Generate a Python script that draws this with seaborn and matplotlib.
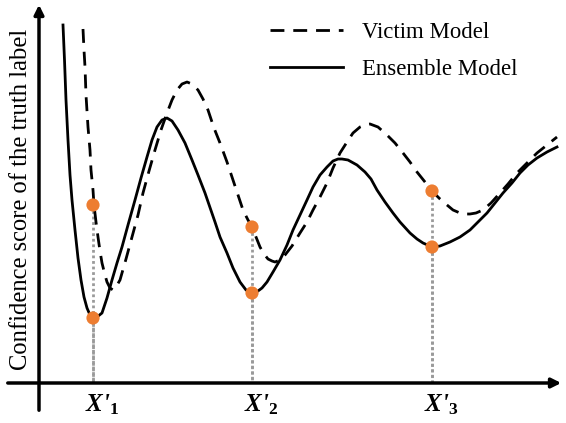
import matplotlib
matplotlib.use("Agg")
import matplotlib.pyplot as plt
import seaborn as sns

# curve shapes (x to the right, y downward as in the image)
ensemble_x = [63, 64.5, 66, 68, 70, 72, 75, 78, 81, 84, 87, 90, 93, 97, 102, 107, 112, 117,
              122, 128, 135, 141, 147, 152, 157, 162, 167, 172, 178, 185, 192, 198, 205,
              215, 220, 227, 233, 240, 246, 252, 258, 262, 267, 273, 280, 287, 293, 300,
              307, 313, 320, 327, 333, 338, 342, 348, 357, 365, 371, 377, 385, 393, 400,
              410, 417, 423, 432, 440, 450, 460, 470, 478, 487, 495, 503, 512, 520, 528,
              537, 547, 557]
ensemble_y = [25, 60, 100, 140, 175, 200, 230, 258, 280, 297, 308, 315, 318, 317, 313, 298,
              280, 263, 247, 225, 200, 178, 157, 140, 127, 120, 118, 121, 130, 143, 160,
              175, 193, 222, 237, 253, 268, 282, 290, 293, 291, 288, 282, 272, 260, 245,
              230, 215, 200, 187, 175, 167, 161, 159, 159, 160, 165, 172, 179, 190, 202,
              213, 222, 233, 239, 243, 247, 246, 242, 237, 230, 222, 213, 203, 193, 183,
              173, 165, 158, 152, 147]

victim_x = [83, 84, 85, 86, 88, 90, 91, 93, 94, 96, 98, 100, 102, 105, 107, 110, 113, 116,
            120, 126, 132, 138, 143, 149, 155, 161, 167, 172, 177, 182, 187, 192, 198, 203,
            208, 214, 220, 227, 233, 238, 243, 248, 252, 256, 260, 264, 268, 272, 275, 280,
            285, 292, 300, 307, 313, 320, 327, 333, 340, 347, 353, 360, 366, 370, 378, 387,
            395, 403, 410, 417, 425, 432, 440, 447, 453, 460, 465, 470, 476, 483, 491, 500,
            508, 517, 527, 537, 547, 557]
victim_y = [29, 50, 67, 95, 127, 150, 170, 190, 205, 222, 237, 251, 263, 275, 282, 288, 290,
            287, 280, 259, 237, 215, 193, 171, 150, 130, 113, 100, 90, 84, 82, 84, 90, 99,
            110, 128, 143, 162, 180, 195, 210, 220, 227, 237, 247, 254, 259, 261, 262, 260,
            255, 246, 233, 222, 210, 197, 183, 168, 153, 142, 133, 127, 124.5, 124, 127,
            135, 143, 153, 162, 172, 182, 191, 199, 205, 210, 213, 214, 214, 213, 210, 203,
            193, 184, 173, 163, 153, 145, 137]

# adversarial examples and their scores
points_x = [93, 93, 252, 252, 432, 432]
points_y = [318, 205, 293, 227, 247, 191]
tick_x = [93, 252, 432]
tick_labels = [r"X'$_{1}$", r"X'$_{2}$", r"X'$_{3}$"]

plt.rcParams['mathtext.fontset'] = 'custom'
plt.rcParams['mathtext.it'] = 'Liberation Serif:italic:bold'
plt.rcParams['mathtext.rm'] = 'Liberation Serif:bold'

fig = plt.figure(figsize=(5.66, 4.23), dpi=100)
ax = fig.add_axes([0, 0, 1, 1])
ax.set_xlim(0, 566)
ax.set_ylim(423, 0)
ax.axis('off')

# dotted drop lines
for xv, yv in zip(points_x, points_y):
    ax.plot([xv, xv], [yv, 383], color='#9a9a9a', lw=2, linestyle=(0, (1, 1)), zorder=1)

sns.lineplot(x=victim_x, y=victim_y, ax=ax, color='black', lw=2, sort=False,
             linestyle=(0, (5, 3.2)), label='Victim Model', zorder=2)
sns.lineplot(x=ensemble_x, y=ensemble_y, ax=ax, color='black', lw=2, sort=False,
             label='Ensemble Model', zorder=2)
sns.scatterplot(x=points_x, y=points_y, ax=ax, color='#ED7D31', s=90, edgecolor='none',
                zorder=3, legend=False)

# axes arrows
ax.annotate('', xy=(564, 383), xytext=(5, 383),
            arrowprops=dict(arrowstyle='-|>', color='black', lw=2.5, mutation_scale=14))
ax.annotate('', xy=(39, 2), xytext=(39, 413),
            arrowprops=dict(arrowstyle='-|>', color='black', lw=2.5, mutation_scale=14))

for xv, lab in zip(tick_x, tick_labels):
    ax.text(xv - 8, 411, lab, ha='left', va='baseline', fontsize=18,
            family='Liberation Serif', fontstyle='italic', fontweight='bold')

ax.text(21, 199, 'Confidence score of the truth label', rotation=90, ha='center',
        va='center', fontsize=17.7, family='Liberation Serif')

ax.legend(loc='upper left', bbox_to_anchor=(250 / 566, 1 - 1 / 423), frameon=False,
          prop={'family': 'Liberation Serif', 'size': 16.4}, handlelength=3.2,
          labelspacing=0.74, handletextpad=0.83)

fig.savefig('out.png', dpi=100)
